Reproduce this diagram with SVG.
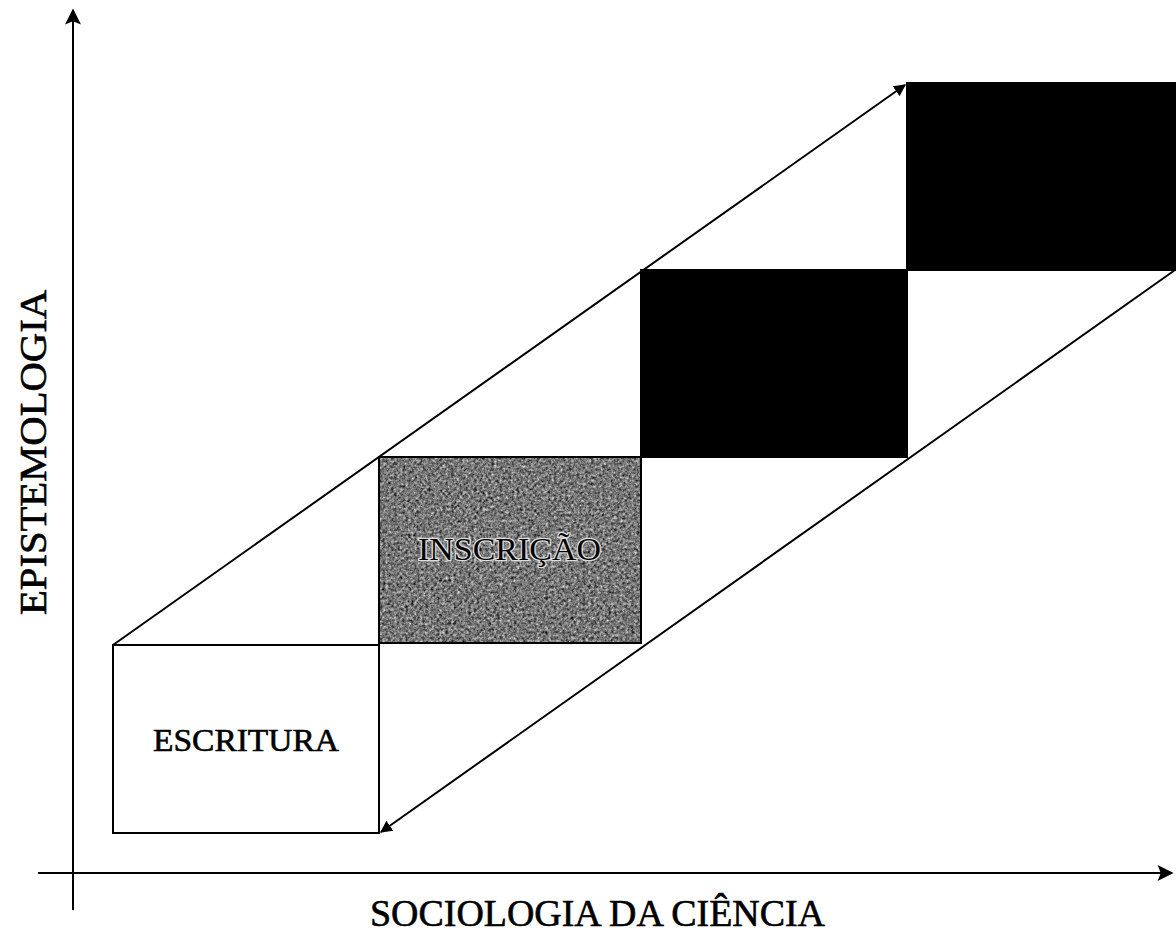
<svg xmlns="http://www.w3.org/2000/svg" width="1176" height="943" viewBox="0 0 1176 943">
<style>
.ln{stroke:#000;stroke-width:2;fill:none}
.box{stroke:#000;stroke-width:2}
.t{font-family:"Liberation Serif","DejaVu Serif",serif;fill:#000;stroke:#000;stroke-width:0.6}
</style>
<defs>
<marker id="ah" viewBox="0 0 10 10" refX="9" refY="5" markerWidth="12" markerHeight="12" markerUnits="userSpaceOnUse" orient="auto">
<path d="M0,0 L10,5 L0,10 z" fill="#000"/>
</marker>
<marker id="axh" viewBox="0 0 10 10" refX="9" refY="5" markerWidth="24" markerHeight="16" markerUnits="userSpaceOnUse" orient="auto">
<path d="M0,0 L10,5 L0,10 L2,5 z" fill="#000"/>
</marker>
<filter id="noise" x="0" y="0" width="100%" height="100%" color-interpolation-filters="sRGB">
<feTurbulence type="fractalNoise" baseFrequency="0.35" numOctaves="4" seed="7" result="n"/>
<feColorMatrix in="n" type="matrix" values="0.33 0.33 0.33 0 0  0.33 0.33 0.33 0 0  0.33 0.33 0.33 0 0  0 0 0 0 1" result="gs"/>
<feComponentTransfer in="gs" result="gc">
<feFuncR type="linear" slope="1.7" intercept="-0.38"/>
<feFuncG type="linear" slope="1.7" intercept="-0.38"/>
<feFuncB type="linear" slope="1.7" intercept="-0.38"/>
</feComponentTransfer>
<feComposite in="gc" in2="SourceGraphic" operator="in"/>
</filter>
</defs>
<rect width="1176" height="943" fill="#fff"/>
<g id="axes">
<line class="ln" x1="73" y1="910" x2="73" y2="10" marker-end="url(#axh)"/>
<line class="ln" x1="38" y1="873" x2="1172" y2="873" marker-end="url(#axh)"/>
</g>
<g id="escritura">
<rect class="box" x="113" y="645" width="266" height="188" fill="#fff"/>
<text class="t" x="153" y="751" font-size="31" textLength="186" lengthAdjust="spacingAndGlyphs">ESCRITURA</text>
</g>
<g id="inscricao">
<rect x="379" y="457" width="262" height="186" fill="#777" filter="url(#noise)"/>
<rect class="box" x="379" y="457" width="262" height="186" fill="none"/>
<text x="418" y="560" font-size="31" textLength="183" lengthAdjust="spacingAndGlyphs" style="font-family:'Liberation Serif','DejaVu Serif',serif;fill:#000;stroke:#ddd;stroke-width:2.5;paint-order:stroke">INSCRIÇÃO</text>
</g>
<g id="black2">
<rect class="box" x="641" y="270" width="266" height="187" fill="#000"/>
</g>
<g id="black3">
<rect class="box" x="907" y="83" width="268" height="187" fill="#000"/>
</g>
<g id="connectors">
<line class="ln" x1="113" y1="645" x2="905" y2="85" marker-end="url(#ah)"/>
<line class="ln" x1="1175" y1="270" x2="381" y2="832" marker-end="url(#ah)"/>
</g>
<g id="labels">
<text class="t" font-size="38" textLength="325" lengthAdjust="spacingAndGlyphs" transform="translate(46,615) rotate(-90)">EPISTEMOLOGIA</text>
<text class="t" x="370" y="926" font-size="38" textLength="455" lengthAdjust="spacingAndGlyphs">SOCIOLOGIA DA CIÊNCIA</text>
</g>
</svg>
